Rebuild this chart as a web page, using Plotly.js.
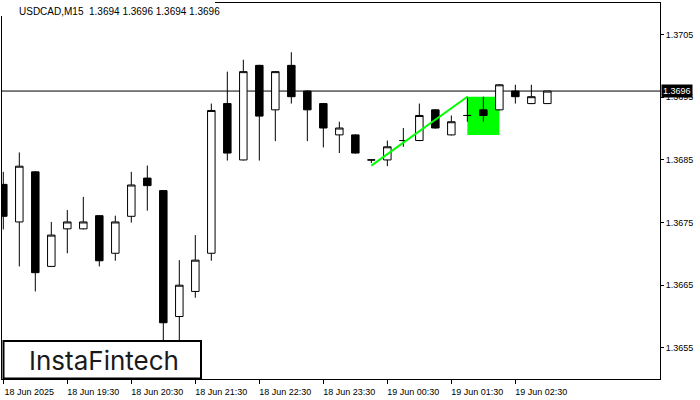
<!DOCTYPE html>
<html>
<head>
<meta charset="utf-8">
<script src="https://cdn.plot.ly/plotly-3.0.1.min.js"></script>
<style>
html,body{margin:0;padding:0;background:#fff;}
#chart{width:700px;height:400px;}
</style>
</head>
<body>
<div id="chart"></div>
<script>
// 15-minute bars, 18 Jun 2025 18:30 onwards
const times = ["18:30","18:45","19:00","19:15","19:30","19:45","20:00","20:15","20:30","20:45",
  "21:00","21:15","21:30","21:45","22:00","22:15","22:30","22:45","23:00","23:15",
  "23:30","23:45","00:00","00:15","00:30","00:45","01:00","01:15","01:30","01:45",
  "02:00","02:15","02:30","02:45","03:00"];
const open  = [1.36811,1.36751,1.36831,1.36680,1.36740,1.36740,1.36761,1.36701,1.36760,1.36821,
  1.36801,1.36600,1.36640,1.36701,1.36940,1.36850,1.37001,1.36930,1.37001,1.36960,
  1.36940,1.36890,1.36890,1.36850,1.36850,1.36881,1.36881,1.36930,1.36890,1.36921,
  1.36930,1.36930,1.36960,1.36940,1.36940];
const high  = [1.36831,1.36862,1.36832,1.36751,1.36770,1.36791,1.36762,1.36761,1.36831,1.36841,
  1.36802,1.36690,1.36730,1.36940,1.36991,1.37010,1.37002,1.36992,1.37022,1.36961,
  1.36941,1.36911,1.36891,1.36850,1.36881,1.36901,1.36940,1.36931,1.36921,1.36951,
  1.36951,1.36971,1.36970,1.36970,1.36960];
const low   = [1.36739,1.36680,1.36640,1.36679,1.36701,1.36739,1.36680,1.36689,1.36750,1.36769,
  1.36530,1.36540,1.36630,1.36689,1.36849,1.36849,1.36849,1.36880,1.36940,1.36880,
  1.36870,1.36861,1.36860,1.36845,1.36840,1.36871,1.36880,1.36900,1.36889,1.36911,
  1.36911,1.36929,1.36940,1.36939,1.36940];
const close = [1.36760,1.36840,1.36670,1.36730,1.36751,1.36751,1.36689,1.36751,1.36810,1.36809,
  1.36590,1.36650,1.36690,1.36929,1.36861,1.36991,1.36920,1.36991,1.36951,1.36930,
  1.36901,1.36901,1.36861,1.36850,1.36871,1.36881,1.36921,1.36901,1.36911,1.36921,
  1.36921,1.36970,1.36951,1.36951,1.36960];

const tickIdx = [0,4,8,12,16,20,24,28,32];
const tickLabels = ["18 Jun 2025","18 Jun 19:30","18 Jun 20:30","18 Jun 21:30","18 Jun 22:30",
  "18 Jun 23:30","19 Jun 00:30","19 Jun 01:30","19 Jun 02:30"];
const priceTicks = [1.3655,1.3665,1.3675,1.3685,1.3695,1.3705];

const title = "USDCAD,M15  1.3694 1.3696 1.3694 1.3696";
const lastPrice = 1.3696;

// pattern line and signal zone
const patternX = [23, 29];
const patternY = [1.36841, 1.36951];
const zoneX = [29, 31];
const zoneY = [1.36890, 1.36951];

const xIdx = times.map((t, i) => i);

const W = 700, H = 400;
const mL = 2, mR = 40, mT = 3, mB = 21;
const pw = W - mL - mR, ph = H - mT - mB;
const px = v => (v - mL) / pw;
const py = v => (H - mB - v) / ph;

const traces = [
  {
    type: 'candlestick',
    x: xIdx, open: open, high: high, low: low, close: close,
    increasing: {line: {color: '#000', width: 1}, fillcolor: '#ffffff'},
    decreasing: {line: {color: '#000', width: 1}, fillcolor: '#000000'},
    whiskerwidth: 0,
    hoverinfo: 'skip',
    showlegend: false
  },
  {
    type: 'scatter', mode: 'lines',
    x: patternX, y: patternY,
    line: {color: '#00ff00', width: 2},
    hoverinfo: 'skip', showlegend: false
  }
];

const layout = {
  width: W, height: H,
  margin: {l: mL, r: mR, t: mT, b: mB, pad: 0},
  paper_bgcolor: '#fff', plot_bgcolor: '#fff',
  showlegend: false,
  boxgap: 0.33,
  font: {family: 'Liberation Sans, Arial, sans-serif', size: 9, color: '#000'},
  xaxis: {
    range: [-0.081, 41.04],
    showgrid: false, zeroline: false,
    rangeslider: {visible: false},
    tickmode: 'array', tickvals: tickIdx, ticktext: tickLabels,
    ticks: 'outside', ticklen: 4, tickcolor: '#000', tickwidth: 1,
    ticklabelshift: 26, ticklabelstandoff: 0,
    showline: true, linecolor: '#000', linewidth: 1, mirror: true,
    tickfont: {size: 9, color: '#000'},
    fixedrange: true
  },
  yaxis: {
    side: 'right',
    range: [1.365002, 1.371006],
    showgrid: false, zeroline: false,
    tickmode: 'array', tickvals: priceTicks,
    ticktext: priceTicks.map(v => v.toFixed(4)),
    ticks: 'outside', ticklen: 3, tickcolor: '#000', tickwidth: 1,
    showline: true, linecolor: '#000', linewidth: 1, mirror: true,
    tickfont: {size: 9, color: '#000'},
    fixedrange: true
  },
  shapes: [
    {type: 'rect', xref: 'x', yref: 'y', x0: zoneX[0], x1: zoneX[1], y0: zoneY[0], y1: zoneY[1],
     fillcolor: '#00ff00', line: {width: 0}, layer: 'below'},
    {type: 'line', xref: 'paper', yref: 'y', x0: 0, x1: 1, y0: lastPrice, y1: lastPrice,
     line: {color: '#000', width: 1}, layer: 'below'},
    {type: 'rect', xref: 'paper', yref: 'paper', x0: -0.01, x1: px(215), y0: py(16), y1: 1.05,
     fillcolor: '#fff', line: {width: 0}, layer: 'above'},
    {type: 'rect', xref: 'paper', yref: 'paper', x0: px(3.5), x1: px(201), y0: py(378.5), y1: py(341),
     fillcolor: '#fff', line: {color: '#000', width: 2}, layer: 'above'}
  ],
  annotations: [
    {xref: 'paper', yref: 'paper', x: px(17), y: py(12), xanchor: 'left', yanchor: 'middle',
     text: title, showarrow: false, font: {family: 'Liberation Sans, Arial, sans-serif', size: 10, color: '#000'}},
    {xref: 'paper', yref: 'y', x: px(661), y: lastPrice, xanchor: 'left', yanchor: 'middle',
     text: lastPrice.toFixed(4), showarrow: false, bgcolor: '#000', borderpad: 1,
     font: {family: 'Liberation Sans, Arial, sans-serif', size: 9, color: '#fff'}},
    {xref: 'paper', yref: 'paper', x: px(104), y: py(360), xanchor: 'center', yanchor: 'middle',
     text: 'InstaFintech', showarrow: false,
     font: {family: 'Inter, Roboto, sans-serif', size: 26, color: '#1a1a1a'}}
  ]
};

Plotly.newPlot('chart', traces, layout, {staticPlot: true, displayModeBar: false});
</script>
</body>
</html>
